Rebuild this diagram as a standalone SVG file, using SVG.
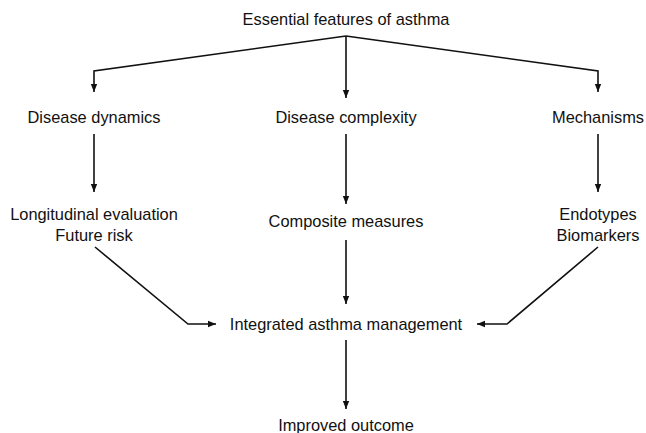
<svg xmlns="http://www.w3.org/2000/svg" width="646" height="433" viewBox="0 0 646 433">
<style>
text{font-family:"Liberation Sans",Arial,sans-serif;font-size:16.4px;fill:#111;text-anchor:middle}
.c{fill:none;stroke:#111;stroke-width:1.6}
</style>
<defs>
<marker id="a" viewBox="0 0 10 10" refX="10" refY="5" markerWidth="8" markerHeight="8" markerUnits="userSpaceOnUse" orient="auto"><path d="M0,1 L10,5 L0,9 Z" fill="#111"/></marker>
</defs>
<rect width="646" height="433" fill="#fff"/>
<g id="connectors">
<path class="c" d="M346,36 L94,71 L94,92" marker-end="url(#a)"/>
<path class="c" d="M346,36 L346,98" marker-end="url(#a)"/>
<path class="c" d="M346,36 L598,71 L598,92" marker-end="url(#a)"/>
<path class="c" d="M94,134 L94,192" marker-end="url(#a)"/>
<path class="c" d="M346,134 L346,204" marker-end="url(#a)"/>
<path class="c" d="M598,134 L598,192" marker-end="url(#a)"/>
<path class="c" d="M95,247 L188,324 L216,324" marker-end="url(#a)"/>
<path class="c" d="M346,240 L346,304" marker-end="url(#a)"/>
<path class="c" d="M598,247 L507,324 L477,324" marker-end="url(#a)"/>
<path class="c" d="M346,340 L346,409" marker-end="url(#a)"/>
</g>
<g id="n-root"><text x="346" y="25">Essential features of asthma</text></g>
<g id="n-dyn"><text x="94" y="123">Disease dynamics</text></g>
<g id="n-comp"><text x="346" y="123">Disease complexity</text></g>
<g id="n-mech"><text x="598" y="123">Mechanisms</text></g>
<g id="n-long"><text x="94" y="220">Longitudinal evaluation</text><text x="94" y="241">Future risk</text></g>
<g id="n-composite"><text x="346" y="227">Composite measures</text></g>
<g id="n-endo"><text x="598" y="220">Endotypes</text><text x="598" y="241">Biomarkers</text></g>
<g id="n-int"><text x="346" y="330">Integrated asthma management</text></g>
<g id="n-out"><text x="346" y="431">Improved outcome</text></g>
</svg>
